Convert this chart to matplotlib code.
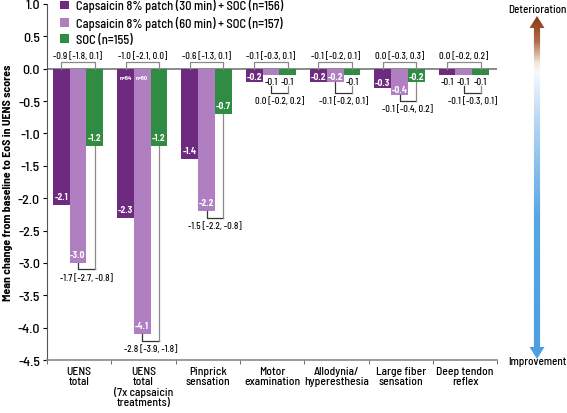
import matplotlib
matplotlib.use('Agg')
import matplotlib.pyplot as plt
import numpy as np
from matplotlib.colors import LinearSegmentedColormap
from matplotlib.patches import Polygon

plt.rcParams['font.family'] = ['Barlow Semi Condensed', 'DejaVu Sans']
plt.rcParams['font.weight'] = 500

# Data
categories = ['UENS\ntotal', 'UENS\ntotal\n(7x capsaicin\ntreatments)', 'Pinprick\nsensation',
              'Motor\nexamination', 'Allodynia/\nhyperesthesia', 'Large fiber\nsensation',
              'Deep tendon\nreflex']
series_names = ['Capsaicin 8% patch (30 min) + SOC (n=156)',
                'Capsaicin 8% patch (60 min) + SOC (n=157)',
                'SOC (n=155)']
cap30 = [-2.1, -2.3, -1.4, -0.2, -0.2, -0.3, -0.1]
cap60 = [-3.0, -4.1, -2.2, -0.1, -0.2, -0.4, -0.1]
soc = [-1.2, -1.2, -0.7, -0.1, -0.1, -0.2, -0.1]
diff30 = ['-0.9 [-1.8, 0.1]', '-1.0 [-2.1, 0.0]', '-0.6 [-1.3, 0.1]', '-0.1 [-0.3, 0.1]',
          '-0.1 [-0.2, 0.1]', '0.0 [-0.3, 0.3]', '0.0 [-0.2, 0.2]']
diff60 = ['-1.7 [-2.7, -0.8]', '-2.8 [-3.9, -1.8]', '-1.5 [-2.2, -0.8]', '0.0 [-0.2, 0.2]',
          '-0.1 [-0.2, 0.1]', '-0.1 [-0.4, 0.2]', '-0.1 [-0.3, 0.1]']
n_labels = {(1, 0): 'n=64', (1, 1): 'n=60'}

colors = ['#6d2a7e', '#b07fc1', '#2f8c42']
offsets = [-0.28, -0.02, 0.24]
width = 0.26

fig = plt.figure(figsize=(5.67, 4.14), dpi=100)
ax = fig.add_axes([0.083, 0.128, 0.794, 0.86])

x = np.arange(len(categories))
series = [cap30, cap60, soc]
ax.axhline(0, color='#8a8a8a', lw=1.4, zorder=1)
for k, vals in enumerate(series):
    ax.bar(x + offsets[k], vals, width, color=colors[k], label=series_names[k], zorder=2)

# value labels: white inside the bar, or black under the short bars
for k, vals in enumerate(series):
    for i, v in enumerate(vals):
        inside = v <= -0.2
        if inside:
            y = v + (0.13 if v < -0.5 else 0.08)
        else:
            y = v - 0.1
        ax.text(x[i] + offsets[k], y, f'{v:.1f}', ha='center', va='center', fontsize=6.8,
                fontweight='bold' if inside else 500,
                color='white' if inside else 'black', zorder=4)
for (i, k), txt in n_labels.items():
    ax.text(x[i] + offsets[k], -0.13, txt, ha='center', va='center', fontsize=4.5,
            fontweight='bold', color='white', zorder=4)

# top brackets: 30 min vs SOC
for i in range(len(categories)):
    xl, xr = x[i] + offsets[0], x[i] + offsets[2]
    ax.plot([xl, xl, xr, xr], [0, 0.11, 0.11, 0], color='#8a8a8a', lw=0.9, zorder=3)
    ax.text(x[i] + offsets[1], 0.13, diff30[i], ha='center', va='bottom', fontsize=6.6)

# bottom brackets: 60 min vs SOC
for i in range(len(categories)):
    xl, xr = x[i] + offsets[1], x[i] + offsets[2]
    lt = cap60[i] if cap60[i] <= -0.2 else cap60[i] - 0.17
    rt = soc[i] if soc[i] <= -0.2 else soc[i] - 0.17
    lvl = min(lt, rt) - 0.1
    ax.plot([xl, xl, xr], [lt, lvl, lvl], color='#333333', lw=0.9, zorder=3)
    ax.plot([xr, xr], [lvl, rt], color='#8a8a8a', lw=0.9, zorder=3)
    ax.text((xl + xr) / 2, lvl - 0.05, diff60[i], ha='center', va='top', fontsize=6.6)

ax.set_xlim(-0.5, len(categories) - 0.5)
ax.set_ylim(-4.5, 1.0)
ticks = np.arange(-4.5, 1.01, 0.5)
ax.set_yticks(ticks)
ax.set_yticklabels([f'{t:.1f}' for t in ticks], fontsize=10)
ax.set_xticks(x)
ax.set_xticklabels(categories, fontsize=8.3, va='top', linespacing=1.0)
ax.set_xticks(np.arange(-0.5, len(categories)), minor=True)
ax.tick_params(axis='x', which='major', length=0, pad=4)
ax.tick_params(axis='x', which='minor', length=3, color='#555555')
ax.tick_params(axis='y', length=3, pad=2)
for s in ['top', 'right']:
    ax.spines[s].set_visible(False)
ax.spines['left'].set_color('#555555')
ax.spines['bottom'].set_color('#8a8a8a')
ax.spines['bottom'].set_linewidth(1.2)
ax.set_ylabel('Mean change from baseline to EoS in UENS scores', fontsize=8.5,
              fontweight='bold', labelpad=3)

ax.legend(loc='upper left', bbox_to_anchor=(0.018, 1.03), frameon=False, fontsize=9,
          handlelength=0.7, handleheight=0.7, handletextpad=0.6, labelspacing=0.3,
          borderaxespad=0)

# gradient arrow on the right
aax = fig.add_axes([526 / 567, 1 - 360 / 414, 22 / 567, 343 / 414])
aax.set_xlim(0, 1)
aax.set_ylim(0, 1)
aax.axis('off')
cmap = LinearSegmentedColormap.from_list('arr', [
    (0.0, '#4c9fe1'), (0.42, '#58a7e4'), (0.7, '#b9d8f3'), (0.84, '#f7fafd'),
    (0.865, '#f4e6de'), (0.93, '#b26b48'), (1.0, '#8a3818')])
grad = np.linspace(0, 1, 400).reshape(-1, 1)
im = aax.imshow(grad, cmap=cmap, origin='lower', extent=[0, 1, 0, 1], aspect='auto')
hl = 0.035
arrow = Polygon([(0.5, 1), (0.84, 1 - hl), (0.64, 1 - hl), (0.64, hl), (0.84, hl), (0.5, 0),
                 (0.16, hl), (0.36, hl), (0.36, 1 - hl), (0.16, 1 - hl)],
                closed=True, transform=aax.transData, facecolor='none', edgecolor='none')
aax.add_patch(arrow)
im.set_clip_path(arrow)

fig.text(537 / 567, 1 - 10 / 414, 'Deterioration', ha='center', va='center', fontsize=8)
fig.text(537 / 567, 1 - 362 / 414, 'Improvement', ha='center', va='center', fontsize=8)

fig.savefig('out.png', dpi=100)
